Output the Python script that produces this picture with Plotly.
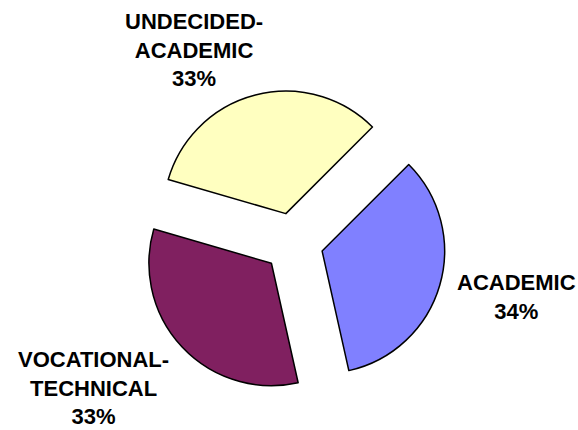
import plotly.graph_objects as go

# ---- data ----
categories = ["ACADEMIC", "VOCATIONAL-TECHNICAL", "UNDECIDED-ACADEMIC"]
label_text = ["ACADEMIC", "VOCATIONAL-<br>TECHNICAL", "UNDECIDED-<br>ACADEMIC"]
values = [34, 33, 33]

# ---- style ----
colors = ["#8080FF", "#802060", "#FFFFC0"]
W, H = 578, 430
cx, cy = 293.3, 242.7      # pie centre in pixels (from top-left)
half = 152.5               # half size of pie box (radius * (1 + pull))
pull = 0.245

fig = go.Figure()
fig.add_trace(go.Pie(
    labels=categories,
    values=values,
    sort=False,
    direction="clockwise",
    rotation=45,
    pull=[pull] * len(values),
    marker=dict(colors=colors, line=dict(color="black", width=1.5)),
    textinfo="none",
    showlegend=False,
    domain=dict(x=[(cx - half) / W, (cx + half) / W],
                y=[(H - cy - half) / H, (H - cy + half) / H]),
))

total = sum(values)
label_pos = [(516, 297), (93, 388), (194, 50)]   # label block centres, pixels
for txt, v, (lx, ly) in zip(label_text, values, label_pos):
    fig.add_annotation(
        x=lx / W, y=1 - ly / H, xref="paper", yref="paper",
        xanchor="center", yanchor="middle",
        text=f"<b>{txt}<br>{round(100 * v / total)}%</b>",
        showarrow=False, align="center",
        font=dict(family="Liberation Sans, Arial, sans-serif", size=22, color="black"),
    )

fig.update_layout(
    width=W, height=H,
    margin=dict(l=0, r=0, t=0, b=0),
    paper_bgcolor="white", plot_bgcolor="white",
)
fig.write_html(
    "out.html",
    config={"displayModeBar": False},
    post_script="document.body.style.margin='0';document.body.style.overflow='hidden';",
)
